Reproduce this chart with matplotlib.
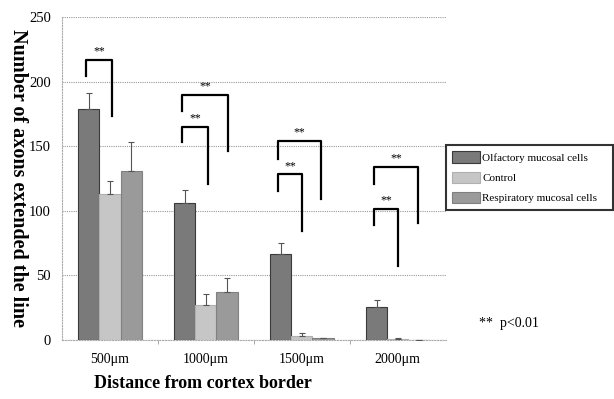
import numpy as np
from matplotlib import pyplot as plt

categories = ["500\u03bcm", "1000\u03bcm", "1500\u03bcm", "2000\u03bcm"]
series_names = ["Olfactory mucosal cells", "Control", "Respiratory mucosal cells"]
olfactory = [179, 106, 66, 25]
control = [113, 27, 3, 0.6]
respiratory = [131, 37, 1, 0]
olfactory_err = [12, 10, 9, 6]
control_err = [10, 8, 2, 0.5]
respiratory_err = [22, 11, 0.5, 0]

# significance brackets: (category, right leg offset, top, left leg bottom, right leg bottom)
brackets = [
    (0, 0.02, 217, 204, 173),
    (1, 0.02, 165, 153, 121),
    (1, 0.23, 190, 177, 146),
    (2, 0.00, 128, 115, 84),
    (2, 0.20, 154, 140, 109),
    (3, 0.00, 101, 89, 57),
    (3, 0.21, 134, 121, 90),
]

plt.rcParams["font.family"] = ["Liberation Serif", "DejaVu Serif"]

fig = plt.figure(figsize=(6.14, 3.99), dpi=100)
ax = fig.add_axes([0.101, 0.149, 0.625, 0.808])

colors = ["#7a7a7a", "#c6c6c6", "#9a9a9a"]
edges = ["#3a3a3a", "#b0b0b0", "#808080"]
x = np.arange(len(categories))
w = 0.22
vals = [olfactory, control, respiratory]
errs = [olfactory_err, control_err, respiratory_err]
for i in range(3):
    ax.bar(x + (i - 1) * w, vals[i], w, color=colors[i], edgecolor=edges[i],
           linewidth=0.8, label=series_names[i], zorder=3)
    ax.errorbar(x + (i - 1) * w, vals[i], yerr=[np.zeros(4), errs[i]], fmt="none",
                ecolor="#555555", elinewidth=0.8, capsize=2, capthick=0.8, zorder=4)

for c, r, top, lb, rb in brackets:
    xl = c - 0.245
    xr = c + r
    ax.plot([xl, xl, xr, xr], [lb, top, top, rb], color="black", lw=1.6, zorder=5)
    ax.text((xl + xr) / 2, top + 2, "**", ha="center", va="bottom", fontsize=8.5, zorder=5)

ax.set_xlim(-0.5, 3.5)
ax.set_ylim(0, 250)
ax.set_yticks([0, 50, 100, 150, 200, 250])
ax.set_xticks(x)
ax.set_xticklabels(categories, fontsize=10)
ax.set_xticks(np.arange(0.5, 3.5, 1), minor=True)
ax.tick_params(axis="x", which="major", length=0, pad=10)
ax.tick_params(axis="x", which="minor", length=3, color="#999999")
ax.tick_params(axis="y", length=0, labelsize=10.5, pad=8)
ax.yaxis.grid(True, color="#999999", linestyle=(0, (1, 1)), linewidth=0.8, zorder=0)
for s in ["top", "right"]:
    ax.spines[s].set_visible(False)
for s in ["left", "bottom"]:
    ax.spines[s].set_color("#aaaaaa")
    ax.spines[s].set_linestyle((0, (1, 1.5)))

fig.text(0.03, 0.555, "Number of axons extended the line", rotation=-90,
         ha="center", va="center", fontsize=14.5, fontweight="bold")
fig.text(0.33, 0.04, "Distance from cortex border", ha="center", va="center",
         fontsize=13, fontweight="bold")

leg = ax.legend(loc="upper left", bbox_to_anchor=(1.0, 0.0, 0.435, 0.604), mode="expand",
                fontsize=8, frameon=True, fancybox=False, handlelength=2.5, handleheight=1.25,
                labelspacing=0.75, borderpad=0.6, handletextpad=0.2, borderaxespad=0)
leg.get_frame().set_edgecolor("black")
leg.get_frame().set_linewidth(1.5)

fig.text(0.78, 0.19, "**  p<0.01", ha="left", va="center", fontsize=10)

fig.savefig("out.png", dpi=100)
